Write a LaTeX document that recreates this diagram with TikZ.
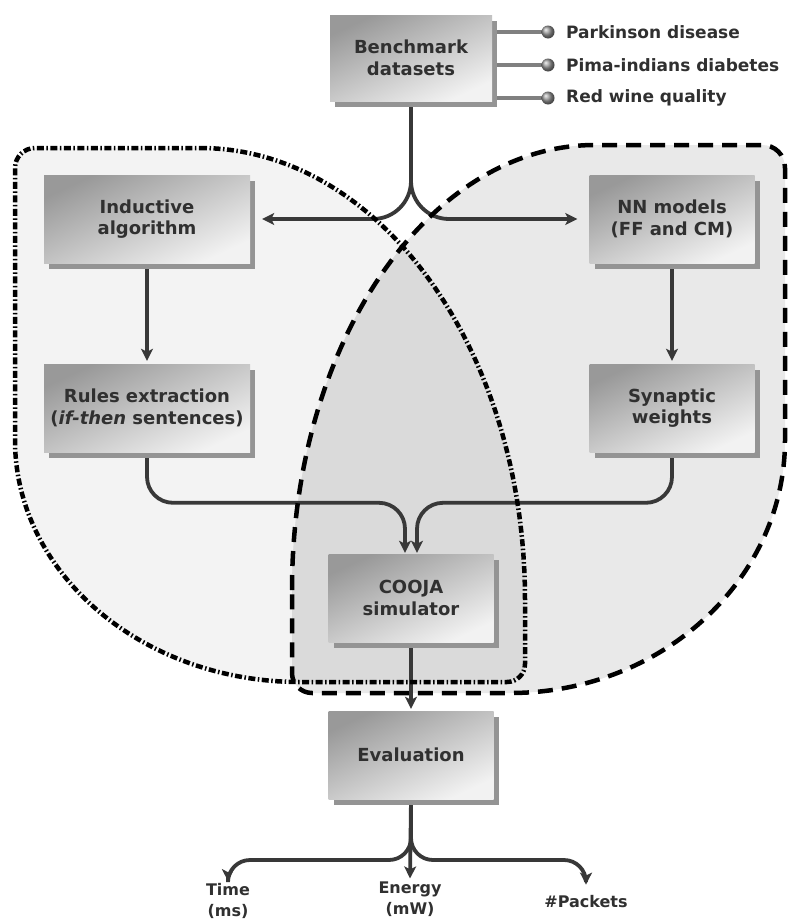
\documentclass[tikz,border=0pt]{standalone}
\usepackage{fontspec}
\setmainfont{DejaVu Sans}
\usetikzlibrary{arrows.meta,shadows,calc}
\definecolor{txt}{HTML}{303030}
\definecolor{conncol}{HTML}{383838}
\definecolor{leftfill}{HTML}{F3F3F3}
\definecolor{rightfill}{HTML}{E9E9E9}
\definecolor{bothfill}{HTML}{DADADA}
\pgfdeclarelayer{bg}\pgfdeclarelayer{cn}\pgfdeclarelayer{ol}
\pgfsetlayers{bg,cn,ol,main}
\newcommand\LeftRegionPath{(200,148) .. controls (379.5,148) and (525,350.4) .. (525,600) -- (525,664) .. controls (525,674) and (517,682) .. (507,682) -- (300,682) .. controls (142.6,682) and (15,573.7) .. (15,440) -- (15,168) .. controls (15,157) and (24,148) .. (35,148) -- cycle}
\newcommand\RightRegionPath{(292,590) .. controls (292,344.2) and (427.7,145) .. (595,145) -- (762,145) .. controls (775,145) and (785,155) .. (785,168) -- (785,440) .. controls (785,579.7) and (661.9,693) .. (510,693) -- (312,693) .. controls (301,693) and (292,684) .. (292,673) -- cycle}
\tikzset{
  box/.style={shading=axis, top color=black!40, bottom color=black!5, shading angle=25,
    minimum width=165pt, minimum height=88pt, inner sep=0pt, align=center, text=txt,
    font=\fontsize{18}{21.5}\selectfont\bfseries,
    drop shadow={shadow xshift=5pt, shadow yshift=-6pt, fill=black!42, opacity=1}},
  widebox/.style={box, minimum width=206pt},
  lab/.style={text=txt, font=\fontsize{17}{21}\selectfont\bfseries, inner sep=0pt},
  outlab/.style={text=txt, font=\fontsize{16}{21}\selectfont\bfseries, inner sep=1pt, align=center},
  conn/.style={draw=conncol, line width=3.8pt, rounded corners=30pt,
    -{Stealth[length=12pt,width=12pt,inset=3pt]}},
  lblline/.style={draw=black!50, line width=4.5pt},
  ddline/.style={draw=black, line width=4.5pt, dash pattern=on 7pt off 2.5pt on 1.5pt off 2.5pt},
  dshline/.style={draw=black, line width=4.5pt, dash pattern=on 15pt off 9pt},
}
\begin{document}
\begin{tikzpicture}[x=1pt,y=-1pt]
\useasboundingbox (0,0) rectangle (789,921);

% nodes
\node[box, minimum width=162pt, minimum height=86pt] (bm) at (411,58) {Benchmark\\datasets};
\node[widebox] (ind) at (147,219) {Inductive\\algorithm};
\node[box] (nn) at (672,219) {NN models\\(FF and CM)};
\node[widebox] (rules) at (147,408) {Rules extraction\\(\textit{if-then} sentences)};
\node[box] (syn) at (672,408) {Synaptic\\weights};
\node[box] (cooja) at (411,598) {COOJA\\simulator};
\node[box] (eval) at (411,755) {Evaluation};

\node[lab, anchor=west] (l1) at (566,32) {Parkinson disease};
\node[lab, anchor=west] (l2) at (566,65) {Pima-indians diabetes};
\node[lab, anchor=west] (l3) at (566,98) {Red wine quality};

\node[outlab] (time) at (228,901) {Time\\(ms)};
\node[outlab] (energy) at (410,899) {Energy\\(mW)};
\node[outlab] (packets) at (586,902) {\#Packets};

\coordinate (b1) at (548,32);
\coordinate (b2) at (548,65);
\coordinate (b3) at (548,98);
\coordinate (sp) at (411,860);

% regions
\begin{pgfonlayer}{bg}
  \fill[white] (0,0) rectangle (789,921);
  \fill[leftfill] \LeftRegionPath;
  \fill[rightfill] \RightRegionPath;
  \begin{scope}
    \clip \LeftRegionPath;
    \fill[bothfill] \RightRegionPath;
  \end{scope}
\end{pgfonlayer}

% connectors
\begin{pgfonlayer}{cn}
  \draw[conn, rounded corners=38pt, shorten >=12pt] (bm.south) |- (ind.east);
  \draw[conn, rounded corners=38pt, shorten >=12pt] (bm.south) |- (nn.west);
  \draw[conn, shorten >=3pt] (ind.south) -- (rules.north);
  \draw[conn, shorten >=3pt] (nn.south) -- (syn.north);
  \draw[conn, rounded corners=26pt, shorten >=1pt] (rules.south) |- ($(cooja.north)+(-6,-51)$) -- ($(cooja.north)+(-6,0)$);
  \draw[conn, rounded corners=26pt, shorten >=1pt] (syn.south) |- ($(cooja.north)+(6,-51)$) -- ($(cooja.north)+(6,0)$);
  \draw[conn, shorten >=2pt] (cooja.south) -- (eval.north);
  \draw[conn, rounded corners=22pt, shorten >=1pt] (eval.south) |- (time.north |- sp) -- (time.north);
  \draw[conn, shorten >=2pt] (eval.south) -- (energy.north);
  \draw[conn, rounded corners=22pt, shorten >=10pt] (eval.south) |- (packets.north |- sp) -- (packets.north);
  \draw[lblline] (bm.east |- l1.west) -- (b1);
  \draw[lblline] (bm.east |- l2.west) -- (b2);
  \draw[lblline] (bm.east |- l3.west) -- (b3);
  \shade[ball color=black!40] (b1) circle (6.5pt);
  \shade[ball color=black!40] (b2) circle (6.5pt);
  \shade[ball color=black!40] (b3) circle (6.5pt);
\end{pgfonlayer}

% outlines
\begin{pgfonlayer}{ol}
  \draw[ddline] \LeftRegionPath;
  \draw[dshline] \RightRegionPath;
\end{pgfonlayer}
\end{tikzpicture}
\end{document}
